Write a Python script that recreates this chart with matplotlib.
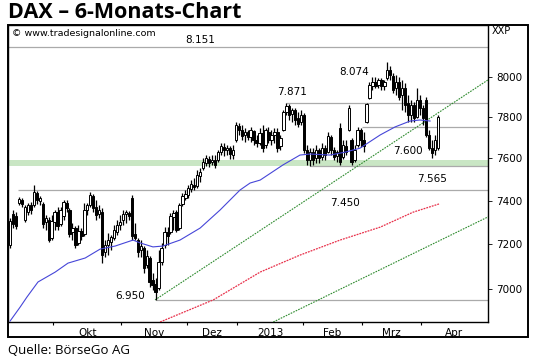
import matplotlib
matplotlib.use("Agg")
import matplotlib.pyplot as plt
from matplotlib.patches import Rectangle
from matplotlib.ticker import FixedLocator, NullLocator, FixedFormatter

# Tageskerzen, Index = Handelstag (Mitte Sep 2012 .. Anfang Apr 2013)
opens = [
    7197, 7338, 7329, 7390, 7404, 7311, 7348, 7380, 7380, 7436,
    7399, 7385, 7302, 7311, 7228, 7302, 7348, 7292, 7329, 7390,
    7357, 7256, 7274, 7206, 7260, 7247, 7357, 7380, 7422, 7371,
    7338, 7348, 7165, 7197, 7210, 7228, 7256, 7288, 7311, 7338,
    7343, 7413, 7247, 7219, 7174, 7183, 7106, 7138, 7040, 7022,
    7005, 7120, 7197, 7256, 7256, 7325, 7348, 7274, 7385, 7413,
    7427, 7455, 7474, 7469, 7516, 7554, 7578, 7597, 7583, 7592,
    7592, 7630, 7654, 7640, 7650, 7616, 7689, 7756, 7737, 7713,
    7727, 7703, 7732, 7689, 7674, 7722, 7664, 7727, 7689, 7713,
    7727, 7659, 7737, 7825, 7855, 7815, 7835, 7796, 7776, 7810,
    7640, 7592, 7630, 7602, 7640, 7607, 7650, 7630, 7703, 7640,
    7611, 7747, 7607, 7659, 7737, 7689, 7592, 7664, 7737, 7689,
    7776, 7895, 7955, 7975, 7960, 7985, 7955, 7995, 8035, 8005,
    7945, 7975, 7910, 7945, 7870, 7810, 7860, 7800, 7885, 7845,
    7885, 7713, 7650, 7640, 7650,
]
highs = [
    7320, 7357, 7348, 7418, 7413, 7380, 7390, 7394, 7474, 7445,
    7422, 7394, 7334, 7325, 7334, 7357, 7371, 7371, 7404, 7404,
    7366, 7297, 7283, 7288, 7274, 7390, 7390, 7441, 7431, 7404,
    7380, 7366, 7219, 7251, 7242, 7288, 7311, 7334, 7357, 7357,
    7352, 7427, 7297, 7228, 7219, 7192, 7174, 7147, 7071, 7049,
    7174, 7206, 7279, 7279, 7343, 7357, 7357, 7390, 7436, 7450,
    7474, 7497, 7507, 7545, 7554, 7602, 7616, 7611, 7616, 7616,
    7640, 7674, 7674, 7664, 7659, 7664, 7776, 7771, 7761, 7747,
    7737, 7751, 7737, 7713, 7747, 7761, 7747, 7751, 7737, 7747,
    7747, 7713, 7835, 7871, 7865, 7845, 7845, 7825, 7835, 7820,
    7664, 7650, 7650, 7664, 7650, 7674, 7664, 7727, 7713, 7654,
    7640, 7771, 7689, 7689, 7860, 7698, 7664, 7751, 7747, 7727,
    7870, 7975, 8000, 8000, 7995, 7995, 7985, 8074, 8056, 8020,
    8010, 8000, 7985, 7970, 7910, 7885, 7875, 7945, 7910, 7860,
    7900, 7737, 7689, 7713, 7810,
]
lows = [
    7183, 7274, 7270, 7380, 7371, 7302, 7334, 7338, 7371, 7385,
    7380, 7274, 7265, 7210, 7219, 7265, 7265, 7283, 7311, 7348,
    7233, 7219, 7183, 7197, 7219, 7238, 7334, 7371, 7348, 7311,
    7320, 7115, 7142, 7151, 7174, 7219, 7242, 7265, 7288, 7297,
    7311, 7219, 7219, 7142, 7142, 7071, 7093, 7009, 6996, 6950,
    6996, 7106, 7183, 7197, 7247, 7265, 7256, 7265, 7376, 7404,
    7413, 7441, 7450, 7460, 7488, 7545, 7564, 7559, 7569, 7554,
    7583, 7616, 7611, 7616, 7597, 7597, 7679, 7713, 7689, 7679,
    7689, 7679, 7664, 7654, 7664, 7630, 7650, 7674, 7664, 7674,
    7630, 7640, 7732, 7810, 7786, 7776, 7761, 7751, 7761, 7626,
    7569, 7565, 7569, 7578, 7578, 7592, 7592, 7626, 7616, 7592,
    7583, 7570, 7597, 7616, 7732, 7568, 7583, 7654, 7654, 7630,
    7771, 7890, 7935, 7945, 7945, 7935, 7935, 7985, 7985, 7920,
    7910, 7885, 7835, 7825, 7776, 7776, 7776, 7796, 7810, 7761,
    7703, 7640, 7600, 7616, 7640,
]
closes = [
    7306, 7292, 7283, 7408, 7385, 7371, 7380, 7357, 7441, 7404,
    7413, 7292, 7320, 7219, 7306, 7348, 7283, 7357, 7394, 7366,
    7247, 7274, 7197, 7260, 7238, 7357, 7380, 7427, 7366, 7334,
    7357, 7151, 7197, 7219, 7233, 7265, 7288, 7302, 7338, 7348,
    7329, 7238, 7228, 7165, 7192, 7093, 7147, 7031, 7018, 6987,
    7120, 7183, 7256, 7238, 7329, 7343, 7265, 7380, 7422, 7431,
    7460, 7478, 7464, 7521, 7535, 7583, 7602, 7578, 7592, 7569,
    7630, 7659, 7640, 7650, 7621, 7640, 7761, 7737, 7708, 7727,
    7703, 7737, 7689, 7674, 7722, 7650, 7737, 7689, 7713, 7727,
    7650, 7698, 7825, 7855, 7810, 7835, 7786, 7766, 7810, 7640,
    7592, 7630, 7592, 7640, 7602, 7650, 7616, 7708, 7640, 7607,
    7630, 7583, 7664, 7630, 7845, 7583, 7640, 7737, 7689, 7659,
    7865, 7960, 7975, 7955, 7985, 7955, 7975, 8035, 8010, 7935,
    7975, 7900, 7945, 7860, 7810, 7860, 7796, 7885, 7845, 7796,
    7713, 7650, 7626, 7689, 7800,
]

# gleitende Durchschnitte (Handelstag, Wert)
ma_blue_day = [0, 3.4, 5.7, 9.4, 15.2, 19.5, 25.3, 30.3, 35.4, 41.4, 43.8, 48.1, 51.5, 57.2, 64,
               70.7, 77.4, 80.8, 84.2, 91.9, 97.6, 101, 107.7, 112.8, 117.8, 124.6, 129.6, 134.7, 138, 141.4]
ma_blue_val = [6860, 6921, 6965, 7031, 7075, 7115, 7138, 7178, 7192, 7219, 7206, 7188, 7192, 7219, 7274,
               7357, 7450, 7483, 7497, 7569, 7616, 7621, 7616, 7630, 7649, 7713, 7752, 7781, 7786, 7781]
ma_red_day = [50.5, 68.4, 84.2, 97.6, 111.1, 124.6, 135.7, 144.4]
ma_red_val = [6856, 6952, 7075, 7151, 7219, 7278, 7347, 7385]

# Trendlinien
trend_day = [[48.8, 160.9], [88.6, 160.9]]
trend_val = [[6952, 7985], [6856, 7325]]

# Marken
levels = [8151, 7871, 7750, 7565, 7450, 6950]
level_from = [-1, 93, 118.5, 101, 2.5, 49]
zone = (7562, 7592)

labels = ["8.151", "8.074", "7.871", "7.600", "7.565", "7.450", "6.950"]
label_day = [64, 115.8, 95, 134, 142, 112.8, 40.4]
label_val = [8189, 8025, 7925, 7636, 7502, 7390, 6970]

yticks = [7000, 7200, 7400, 7600, 7800, 8000]
month_starts = [14.5, 37.5, 59.5, 76.5, 98.5, 118.5, 138.5, 160.5]
months = ["Okt", "Nov", "Dez", "2013", "Feb", "Mrz", "Apr"]

W, H = 540, 363
fig = plt.figure(figsize=(W / 100, H / 100), dpi=100)
ax = fig.add_axes([8 / W, 1 - 322 / H, 480 / W, 297 / H])
ax.set_yscale("log")
ax.set_xlim(-0.7, 160.9)
ax.set_ylim(6856, 8266)

ax.axhspan(zone[0], zone[1], color="#c9e6c4", lw=0, zorder=1)
for v, x0 in zip(levels, level_from):
    ax.hlines(v, x0, 161, color="#aaaaaa", lw=0.9, zorder=2)

for d, v in zip(trend_day, trend_val):
    ax.plot(d, v, color="#2e8b2e", lw=0.8, ls=(0, (1.5, 1)), zorder=3)
ax.plot(ma_red_day, ma_red_val, color="#e8304a", lw=0.9, ls=(0, (1.5, 0.8)), zorder=3)

days = list(range(len(closes)))
ax.vlines(days, lows, highs, color="black", lw=0.9, zorder=4)
for i in days:
    o, c = opens[i], closes[i]
    face = "black" if c < o else "white"
    ax.bar(i, abs(c - o), bottom=min(o, c), width=0.8, color=face,
           edgecolor="black", linewidth=0.7, zorder=5)

ax.plot(ma_blue_day, ma_blue_val, color="#4646d8", lw=0.8, zorder=6)

for t, x, y in zip(labels, label_day, label_val):
    ax.text(x, y, t, fontsize=7.5, ha="center", va="center", zorder=7)
ax.text(0.008, 0.972, "\u00a9 www.tradesignalonline.com", transform=ax.transAxes,
        fontsize=6.8, va="center", ha="left")

ax.yaxis.tick_right()
ax.yaxis.set_major_locator(FixedLocator(yticks))
ax.yaxis.set_major_formatter(FixedFormatter([str(t) for t in yticks]))
ax.yaxis.set_minor_locator(NullLocator())
ax.tick_params(axis="y", which="major", length=3, width=0.6, pad=3, labelsize=7.5)

mids = [(a + b) / 2 for a, b in zip(month_starts[:-1], month_starts[1:])]
ax.xaxis.set_major_locator(FixedLocator(mids))
ax.xaxis.set_major_formatter(FixedFormatter(months))
ax.xaxis.set_minor_locator(FixedLocator(month_starts[:-1]))
ax.tick_params(axis="x", which="major", length=0, pad=4, labelsize=7.5)
ax.tick_params(axis="x", which="minor", length=2, width=0.8)

for s in ax.spines.values():
    s.set_linewidth(1.0)

fig.add_artist(Rectangle((8 / W, 1 - 337 / H), 520 / W, 312 / H, transform=fig.transFigure,
                         fill=False, ec="black", lw=1.4))
fig.text(492 / W, 1 - 31 / H, "XXP", fontsize=7, va="center", ha="left")

fig.text(8 / W, 1 - 12.5 / H, "DAX \u2013 6-Monats-Chart", fontsize=15.5, fontweight="bold",
         family="Open Sans", va="center", ha="left")
fig.text(8 / W, 1 - 350 / H, "Quelle: BörseGo AG", fontsize=9.5, family="Open Sans",
         va="center", ha="left")

fig.savefig("out.png", dpi=100)
